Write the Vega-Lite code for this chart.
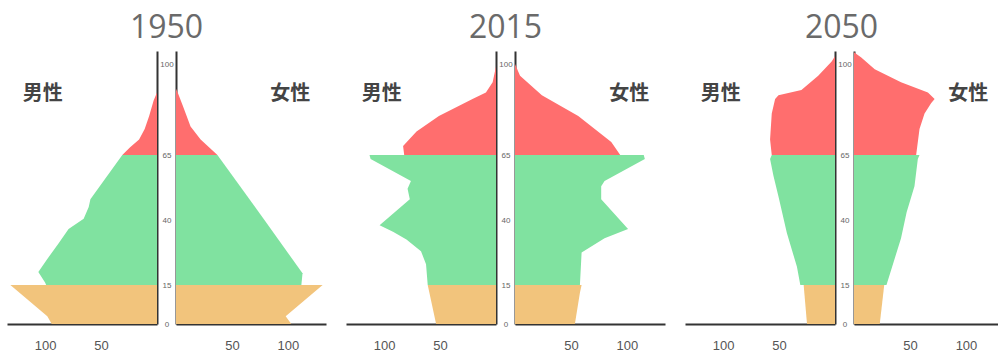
{
  "$schema": "https://vega.github.io/schema/vega-lite/v6.json",
  "padding": {"left": 7, "top": 12, "right": 0, "bottom": 0},
  "background": "white",
  "config": {
    "view": {"stroke": null},
    "axis": {"grid": false, "domainColor": "#333333", "domainWidth": 2, "ticks": false, "tickSize": 0, "labelColor": "#555555", "labelFont": "Liberation Sans", "title": null},
    "title": {"anchor": "middle", "fontSize": 32, "font": "Open Sans", "fontWeight": "normal", "color": "#6a6a6a", "offset": 6}
  },
  "data": {"values": [
    {"year":1950,"sex":"M","group":"young","age":0,"pop":94},{"year":1950,"sex":"M","group":"young","age":3,"pop":98},{"year":1950,"sex":"M","group":"young","age":15,"pop":131},
    {"year":1950,"sex":"M","group":"work","age":15,"pop":99},{"year":1950,"sex":"M","group":"work","age":16,"pop":100},{"year":1950,"sex":"M","group":"work","age":20,"pop":106},{"year":1950,"sex":"M","group":"work","age":25,"pop":98},{"year":1950,"sex":"M","group":"work","age":31,"pop":88},{"year":1950,"sex":"M","group":"work","age":36.5,"pop":79},{"year":1950,"sex":"M","group":"work","age":40.5,"pop":65.5},{"year":1950,"sex":"M","group":"work","age":45,"pop":61},{"year":1950,"sex":"M","group":"work","age":48,"pop":59.5},{"year":1950,"sex":"M","group":"work","age":65,"pop":31},
    {"year":1950,"sex":"M","group":"old","age":65,"pop":31},{"year":1950,"sex":"M","group":"old","age":68,"pop":24},{"year":1950,"sex":"M","group":"old","age":71,"pop":16},{"year":1950,"sex":"M","group":"old","age":75,"pop":11},{"year":1950,"sex":"M","group":"old","age":80,"pop":7},{"year":1950,"sex":"M","group":"old","age":86,"pop":3},{"year":1950,"sex":"M","group":"old","age":89,"pop":0},
    {"year":1950,"sex":"F","group":"young","age":0,"pop":103},{"year":1950,"sex":"F","group":"young","age":3,"pop":98},{"year":1950,"sex":"F","group":"young","age":15,"pop":131},
    {"year":1950,"sex":"F","group":"work","age":15,"pop":112},{"year":1950,"sex":"F","group":"work","age":19.5,"pop":113},{"year":1950,"sex":"F","group":"work","age":40,"pop":79},{"year":1950,"sex":"F","group":"work","age":65,"pop":37},
    {"year":1950,"sex":"F","group":"old","age":65,"pop":37},{"year":1950,"sex":"F","group":"old","age":71,"pop":22},{"year":1950,"sex":"F","group":"old","age":76,"pop":13},{"year":1950,"sex":"F","group":"old","age":84,"pop":6},{"year":1950,"sex":"F","group":"old","age":89,"pop":1.5},{"year":1950,"sex":"F","group":"old","age":90.5,"pop":0},
    {"year":2015,"sex":"M","group":"young","age":0,"pop":53.5},{"year":2015,"sex":"M","group":"young","age":12,"pop":59.5},{"year":2015,"sex":"M","group":"young","age":15,"pop":61},
    {"year":2015,"sex":"M","group":"work","age":15,"pop":61},{"year":2015,"sex":"M","group":"work","age":23,"pop":62.5},{"year":2015,"sex":"M","group":"work","age":28,"pop":67},{"year":2015,"sex":"M","group":"work","age":32.5,"pop":80},{"year":2015,"sex":"M","group":"work","age":35.5,"pop":92},{"year":2015,"sex":"M","group":"work","age":38,"pop":104},{"year":2015,"sex":"M","group":"work","age":48,"pop":77},{"year":2015,"sex":"M","group":"work","age":52,"pop":79},{"year":2015,"sex":"M","group":"work","age":55,"pop":76},{"year":2015,"sex":"M","group":"work","age":63.5,"pop":112},{"year":2015,"sex":"M","group":"work","age":65,"pop":113},
    {"year":2015,"sex":"M","group":"old","age":65,"pop":82},{"year":2015,"sex":"M","group":"old","age":68.5,"pop":83},{"year":2015,"sex":"M","group":"old","age":74,"pop":71},{"year":2015,"sex":"M","group":"old","age":80,"pop":51},{"year":2015,"sex":"M","group":"old","age":86.5,"pop":21},{"year":2015,"sex":"M","group":"old","age":89,"pop":9},{"year":2015,"sex":"M","group":"old","age":93,"pop":3},{"year":2015,"sex":"M","group":"old","age":99,"pop":0},
    {"year":2015,"sex":"F","group":"young","age":0,"pop":53.5},{"year":2015,"sex":"F","group":"young","age":12,"pop":58},{"year":2015,"sex":"F","group":"young","age":15,"pop":59.5},
    {"year":2015,"sex":"F","group":"work","age":15,"pop":58},{"year":2015,"sex":"F","group":"work","age":27.5,"pop":59.5},{"year":2015,"sex":"F","group":"work","age":33,"pop":80},{"year":2015,"sex":"F","group":"work","age":36.5,"pop":101},{"year":2015,"sex":"F","group":"work","age":48,"pop":77},{"year":2015,"sex":"F","group":"work","age":53,"pop":77},{"year":2015,"sex":"F","group":"work","age":55,"pop":80},{"year":2015,"sex":"F","group":"work","age":63.5,"pop":116},{"year":2015,"sex":"F","group":"work","age":65,"pop":115},
    {"year":2015,"sex":"F","group":"old","age":65,"pop":94},{"year":2015,"sex":"F","group":"old","age":70,"pop":86},{"year":2015,"sex":"F","group":"old","age":80,"pop":56.5},{"year":2015,"sex":"F","group":"old","age":88,"pop":24},{"year":2015,"sex":"F","group":"old","age":95.5,"pop":4.5},{"year":2015,"sex":"F","group":"old","age":100,"pop":0},
    {"year":2050,"sex":"M","group":"young","age":0,"pop":25},{"year":2050,"sex":"M","group":"young","age":15,"pop":28},
    {"year":2050,"sex":"M","group":"work","age":15,"pop":31},{"year":2050,"sex":"M","group":"work","age":22,"pop":34},{"year":2050,"sex":"M","group":"work","age":35,"pop":43},{"year":2050,"sex":"M","group":"work","age":49,"pop":50.5},{"year":2050,"sex":"M","group":"work","age":57,"pop":55},{"year":2050,"sex":"M","group":"work","age":63.5,"pop":58},{"year":2050,"sex":"M","group":"work","age":65,"pop":56.5},
    {"year":2050,"sex":"M","group":"old","age":65,"pop":56.5},{"year":2050,"sex":"M","group":"old","age":71,"pop":58},{"year":2050,"sex":"M","group":"old","age":81,"pop":56.5},{"year":2050,"sex":"M","group":"old","age":86.5,"pop":53.5},{"year":2050,"sex":"M","group":"old","age":88,"pop":50.5},{"year":2050,"sex":"M","group":"old","age":90,"pop":30},{"year":2050,"sex":"M","group":"old","age":95.5,"pop":15},{"year":2050,"sex":"M","group":"old","age":101,"pop":3},{"year":2050,"sex":"M","group":"old","age":103,"pop":0},
    {"year":2050,"sex":"F","group":"young","age":0,"pop":23},{"year":2050,"sex":"F","group":"young","age":15,"pop":27},
    {"year":2050,"sex":"F","group":"work","age":15,"pop":29},{"year":2050,"sex":"F","group":"work","age":33,"pop":42},{"year":2050,"sex":"F","group":"work","age":43,"pop":47},{"year":2050,"sex":"F","group":"work","age":53,"pop":54},{"year":2050,"sex":"F","group":"work","age":63.5,"pop":57},{"year":2050,"sex":"F","group":"work","age":65,"pop":58.5},
    {"year":2050,"sex":"F","group":"old","age":65,"pop":55.5},{"year":2050,"sex":"F","group":"old","age":75,"pop":58.5},{"year":2050,"sex":"F","group":"old","age":81,"pop":63},{"year":2050,"sex":"F","group":"old","age":85,"pop":69},{"year":2050,"sex":"F","group":"old","age":86.5,"pop":72},{"year":2050,"sex":"F","group":"old","age":89,"pop":66},{"year":2050,"sex":"F","group":"old","age":93,"pop":42},{"year":2050,"sex":"F","group":"old","age":98,"pop":18.5},{"year":2050,"sex":"F","group":"old","age":102.5,"pop":6.5},{"year":2050,"sex":"F","group":"old","age":104.5,"pop":0}
  ]},
  "spacing": 20,
  "hconcat": [
    {
      "title": "1950", "spacing": 19, "bounds": "flush",
      "hconcat": [
        {"width": 150, "height": 273, "layer": [
          {"transform": [{"filter": "datum.year == 1950 && datum.sex == 'M'"}],
           "mark": {"type": "area", "orient": "horizontal"},
           "encoding": {
             "y": {"field": "age", "type": "quantitative", "scale": {"domain": [0, 105], "nice": false}, "axis": {"orient": "right", "values": [0, 15, 40, 65, 100], "labelAlign": "center", "labelPadding": 9.5, "labelFontSize": 8, "labelColor": "#666666"}},
             "x": {"field": "pop", "type": "quantitative", "stack": null, "scale": {"domain": [0, 134], "reverse": true, "nice": false}, "axis": {"values": [50, 100], "labelFontSize": 13, "labelPadding": 15}},
             "color": {"field": "group", "type": "nominal", "scale": {"domain": ["young", "work", "old"], "range": ["#F2C47C", "#80E2A0", "#FF6E6E"]}, "legend": null}
           }},
          {"data": {"values": [{"label": "男性"}]}, "mark": {"type": "text", "font": "Noto Sans CJK JP", "fontSize": 20, "fontWeight": "bold", "color": "#444444", "baseline": "middle"},
           "encoding": {"text": {"field": "label"}, "x": {"datum": 102}, "y": {"datum": 88.5}}}
        ]},
        {"width": 150, "height": 273, "layer": [
          {"transform": [{"filter": "datum.year == 1950 && datum.sex == 'F'"}],
           "mark": {"type": "area", "orient": "horizontal"},
           "encoding": {
             "y": {"field": "age", "type": "quantitative", "scale": {"domain": [0, 105], "nice": false}, "axis": {"orient": "left", "labels": false}},
             "x": {"field": "pop", "type": "quantitative", "stack": null, "scale": {"domain": [0, 134], "nice": false}, "axis": {"values": [50, 100], "labelFontSize": 13, "labelPadding": 15}},
             "color": {"field": "group", "type": "nominal", "scale": {"domain": ["young", "work", "old"], "range": ["#F2C47C", "#80E2A0", "#FF6E6E"]}, "legend": null}
           }},
          {"data": {"values": [{"label": "女性"}]}, "mark": {"type": "text", "font": "Noto Sans CJK JP", "fontSize": 20, "fontWeight": "bold", "color": "#444444", "baseline": "middle"},
           "encoding": {"text": {"field": "label"}, "x": {"datum": 102}, "y": {"datum": 88.5}}}
        ]}
      ]
    },
    {
      "title": "2015", "spacing": 19, "bounds": "flush",
      "hconcat": [
        {"width": 150, "height": 273, "layer": [
          {"transform": [{"filter": "datum.year == 2015 && datum.sex == 'M'"}],
           "mark": {"type": "area", "orient": "horizontal"},
           "encoding": {
             "y": {"field": "age", "type": "quantitative", "scale": {"domain": [0, 105], "nice": false}, "axis": {"orient": "right", "values": [0, 15, 40, 65, 100], "labelAlign": "center", "labelPadding": 9.5, "labelFontSize": 8, "labelColor": "#666666"}},
             "x": {"field": "pop", "type": "quantitative", "stack": null, "scale": {"domain": [0, 134], "reverse": true, "nice": false}, "axis": {"values": [50, 100], "labelFontSize": 13, "labelPadding": 15}},
             "color": {"field": "group", "type": "nominal", "scale": {"domain": ["young", "work", "old"], "range": ["#F2C47C", "#80E2A0", "#FF6E6E"]}, "legend": null}
           }},
          {"data": {"values": [{"label": "男性"}]}, "mark": {"type": "text", "font": "Noto Sans CJK JP", "fontSize": 20, "fontWeight": "bold", "color": "#444444", "baseline": "middle"},
           "encoding": {"text": {"field": "label"}, "x": {"datum": 102}, "y": {"datum": 88.5}}}
        ]},
        {"width": 150, "height": 273, "layer": [
          {"transform": [{"filter": "datum.year == 2015 && datum.sex == 'F'"}],
           "mark": {"type": "area", "orient": "horizontal"},
           "encoding": {
             "y": {"field": "age", "type": "quantitative", "scale": {"domain": [0, 105], "nice": false}, "axis": {"orient": "left", "labels": false}},
             "x": {"field": "pop", "type": "quantitative", "stack": null, "scale": {"domain": [0, 134], "nice": false}, "axis": {"values": [50, 100], "labelFontSize": 13, "labelPadding": 15}},
             "color": {"field": "group", "type": "nominal", "scale": {"domain": ["young", "work", "old"], "range": ["#F2C47C", "#80E2A0", "#FF6E6E"]}, "legend": null}
           }},
          {"data": {"values": [{"label": "女性"}]}, "mark": {"type": "text", "font": "Noto Sans CJK JP", "fontSize": 20, "fontWeight": "bold", "color": "#444444", "baseline": "middle"},
           "encoding": {"text": {"field": "label"}, "x": {"datum": 102}, "y": {"datum": 88.5}}}
        ]}
      ]
    },
    {
      "title": "2050", "spacing": 19, "bounds": "flush",
      "hconcat": [
        {"width": 150, "height": 273, "layer": [
          {"transform": [{"filter": "datum.year == 2050 && datum.sex == 'M'"}],
           "mark": {"type": "area", "orient": "horizontal"},
           "encoding": {
             "y": {"field": "age", "type": "quantitative", "scale": {"domain": [0, 105], "nice": false}, "axis": {"orient": "right", "values": [0, 15, 40, 65, 100], "labelAlign": "center", "labelPadding": 9.5, "labelFontSize": 8, "labelColor": "#666666"}},
             "x": {"field": "pop", "type": "quantitative", "stack": null, "scale": {"domain": [0, 134], "reverse": true, "nice": false}, "axis": {"values": [50, 100], "labelFontSize": 13, "labelPadding": 15}},
             "color": {"field": "group", "type": "nominal", "scale": {"domain": ["young", "work", "old"], "range": ["#F2C47C", "#80E2A0", "#FF6E6E"]}, "legend": null}
           }},
          {"data": {"values": [{"label": "男性"}]}, "mark": {"type": "text", "font": "Noto Sans CJK JP", "fontSize": 20, "fontWeight": "bold", "color": "#444444", "baseline": "middle"},
           "encoding": {"text": {"field": "label"}, "x": {"datum": 102}, "y": {"datum": 88.5}}}
        ]},
        {"width": 144, "height": 273, "layer": [
          {"transform": [{"filter": "datum.year == 2050 && datum.sex == 'F'"}],
           "mark": {"type": "area", "orient": "horizontal"},
           "encoding": {
             "y": {"field": "age", "type": "quantitative", "scale": {"domain": [0, 105], "nice": false}, "axis": {"orient": "left", "labels": false}},
             "x": {"field": "pop", "type": "quantitative", "stack": null, "scale": {"domain": [0, 128.6], "nice": false}, "axis": {"values": [50, 100], "labelFontSize": 13, "labelPadding": 15}},
             "color": {"field": "group", "type": "nominal", "scale": {"domain": ["young", "work", "old"], "range": ["#F2C47C", "#80E2A0", "#FF6E6E"]}, "legend": null}
           }},
          {"data": {"values": [{"label": "女性"}]}, "mark": {"type": "text", "font": "Noto Sans CJK JP", "fontSize": 20, "fontWeight": "bold", "color": "#444444", "baseline": "middle"},
           "encoding": {"text": {"field": "label"}, "x": {"datum": 102}, "y": {"datum": 88.5}}}
        ]}
      ]
    }
  ]
}
